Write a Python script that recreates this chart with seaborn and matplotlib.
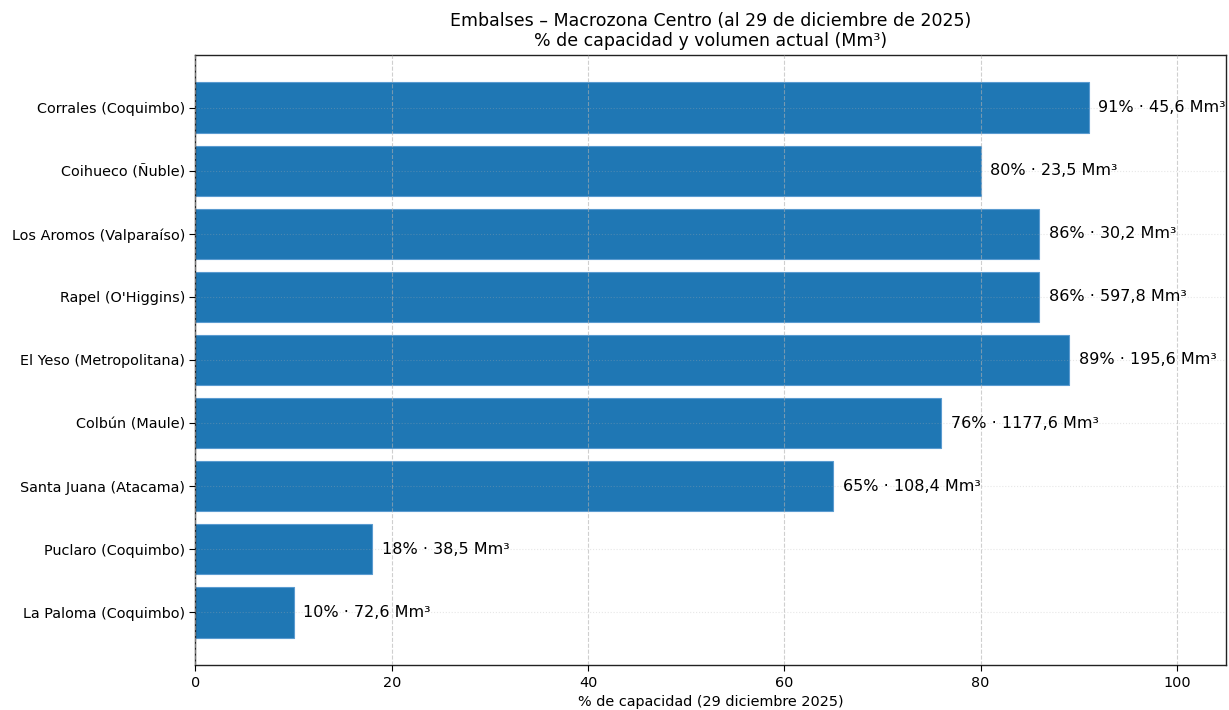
import numpy as np
import pandas as pd
import matplotlib
matplotlib.use('Agg')
import matplotlib.pyplot as plt
import seaborn as sns

embalses = ['Corrales (Coquimbo)', 'Coihueco (Ñuble)', 'Los Aromos (Valparaíso)',
            "Rapel (O'Higgins)", 'El Yeso (Metropolitana)', 'Colbún (Maule)',
            'Santa Juana (Atacama)', 'Puclaro (Coquimbo)', 'La Paloma (Coquimbo)']
pct_capacidad = [91, 80, 86, 86, 89, 76, 65, 18, 10]
volumen_mm3 = [45.6, 23.5, 30.2, 597.8, 195.6, 1177.6, 108.4, 38.5, 72.6]

df = pd.DataFrame({'embalse': embalses, 'pct': pct_capacidad, 'vol': volumen_mm3})

sns.set_style('white', rc={'text.color': 'black', 'axes.labelcolor': 'black',
                           'xtick.color': 'black', 'ytick.color': 'black',
                           'axes.edgecolor': 'black'})
plt.rcParams['font.family'] = ['DejaVu Sans']

fig, ax = plt.subplots(figsize=(12.29, 7.10), dpi=100)
sns.barplot(data=df, x='pct', y='embalse', orient='h', color='#1f77b4',
            saturation=1, width=0.8, edgecolor='#5a9bd0', linewidth=0.8, ax=ax)

for i, (p, v) in enumerate(zip(df['pct'], df['vol'])):
    etiqueta = f"{p}% · {v:.1f}".replace('.', ',') + " Mm³"
    ax.text(p + 1, i, etiqueta, va='center', ha='left', fontsize=11.5)

ax.set_xlim(0, 105)
ax.set_ylim(8.84, -0.84)
ax.set_xticks([0, 20, 40, 60, 80, 100])
ax.set_axisbelow(False)
ax.grid(axis='x', linestyle='--', color='#b0b0b0', alpha=0.6, linewidth=0.8)
ax.grid(axis='y', linestyle=':', color='#b0b0b0', alpha=0.3, linewidth=0.8)
for s in ax.spines.values():
    s.set_color('#222222')
    s.set_linewidth(1)
ax.tick_params(axis='both', labelsize=10.4, length=4, width=0.8, left=True, bottom=True)
ax.set_xlabel('% de capacidad (29 diciembre 2025)', fontsize=10.4)
ax.set_ylabel('')
ax.set_title('Embalses – Macrozona Centro (al 29 de diciembre de 2025)\n% de capacidad y volumen actual (Mm³)',
             fontsize=12.5)

fig.subplots_adjust(left=0.159, right=0.9975, top=0.923, bottom=0.063)
fig.savefig('out.png', dpi=100)
